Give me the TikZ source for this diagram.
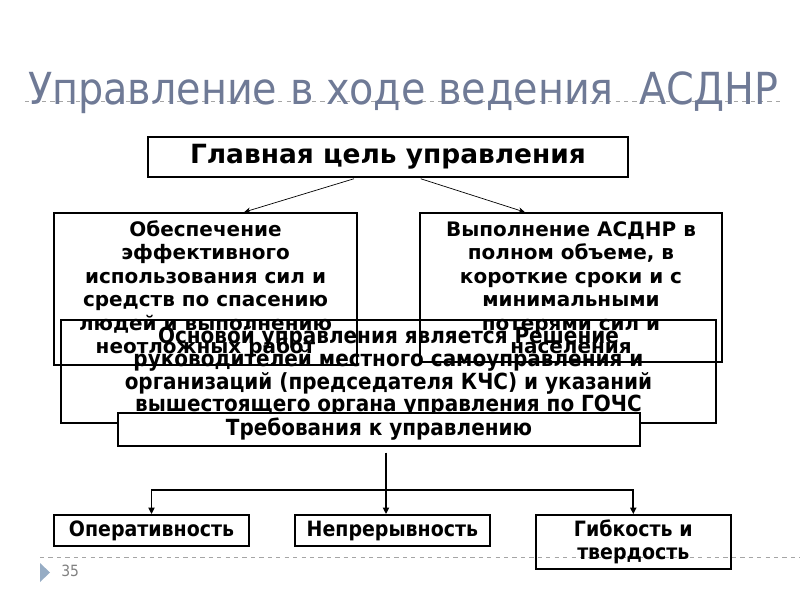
\documentclass[tikz,border=0pt]{standalone}
\usepackage{fontspec}
\setmainfont{DejaVu Sans}
\newfontfamily\condfont{DejaVu Sans Condensed}
\usetikzlibrary{arrows.meta, positioning, calc}
\definecolor{cTitle}{RGB}{111,122,150}
\definecolor{cRule}{RGB}{165,165,165}
\definecolor{cIcon}{RGB}{150,172,196}
\tikzset{
	goalbox/.style ={rectangle, draw=black, line width=1.3pt, align=center, inner sep=2pt, font=\fontsize{18.8}{22}\selectfont\bfseries},
	aimbox/.style  ={rectangle, draw=black, line width=1.3pt, align=center, inner sep=2pt, font=\fontsize{14.2}{16.7}\selectfont\bfseries},
	basebox/.style ={rectangle, draw=black, line width=1.3pt, align=center, inner sep=2pt, font=\condfont\fontsize{15.8}{16.3}\selectfont\bfseries},
	qualbox/.style ={rectangle, draw=black, line width=1.3pt, align=center, inner sep=2pt, minimum width=4.875cm, minimum height=0.775cm, font=\condfont\fontsize{15}{16.3}\selectfont\bfseries},
	thinarr/.style ={-{Stealth[length=1.6mm, width=1.4mm]}, line width=0.5pt},
	sig/.style     ={-{Triangle[length=1.6mm, width=1.5mm]}, line width=1.2pt},
	rule/.style    ={cRule, dashed, line width=0.5pt},
}
\begin{document}
\begin{tikzpicture}[x=0.025cm, y=-0.025cm]
	\useasboundingbox (0,0) rectangle (800,600);
	% slide frame
	\draw[rule] (25,101) -- (780,101);
	\node[anchor=base west, inner sep=0pt, text=cTitle, font=\condfont\fontsize{31.4}{36}\selectfont] (title) at (28,104) {Управление в ходе ведения\ \ АСДНР};
	\draw[rule] (40,557) -- (800,557);
	\fill[cIcon] (40,563) -- (50,572.5) -- (40,582) -- cycle;
	\node[anchor=west, inner sep=0pt, text=gray, font=\condfont\fontsize{11}{13}\selectfont] (page) at (61,571) {35};
	% goal and its two parts
	\node[goalbox, minimum width=12cm, minimum height=1cm] (goal) at (388,157) {Главная цель управления};
	\node[aimbox, minimum width=7.575cm, minimum height=3.8cm] (use) at (205.5,289) {Обеспечение\\эффективного\\использования сил и\\средств по спасению\\людей и выполнению\\неотложных работ};
	\node[aimbox, minimum width=7.55cm, minimum height=3.725cm] (done) at (571,287.5) {Выполнение АСДНР в\\полном объеме, в\\короткие сроки и с\\минимальными\\потерями сил и\\населения};
	\draw[thinarr, shorten <=2pt] ($(goal.south west)!0.435!(goal.south east)$) -- ($(use.north west)!0.627!(use.north east)$);
	\draw[thinarr, shorten <=2pt] ($(goal.south west)!0.5625!(goal.south east)$) -- ($(done.north west)!0.348!(done.north east)$);
	% basis and requirements
	\node[basebox, minimum width=16.375cm, minimum height=2.575cm] (basis) at (388.5,371.5) {Основой управления является Решение\\руководителей местного самоуправления и\\организаций (председателя КЧС) и указаний\\вышестоящего органа управления по ГОЧС};
	\node[basebox, fill=white, minimum width=13.05cm, minimum height=0.825cm] (req) at (379,429.5) {Требования к управлению};
	\node[qualbox] (op) at (151.5,530.5) {Оперативность};
	\node[qualbox, right=1.1cm of op] (nep) {Непрерывность};
	\node[qualbox, minimum height=1.35cm, right=1.1cm of op.north east -| nep.east, anchor=north west] (gib) {Гибкость и\\твердость};
	\coordinate (fork) at (386,490);
	\draw[sig, shorten <=4pt] (req.south -| fork) -- (nep.north -| fork);
	\draw[sig] (fork) -| (op.north);
	\draw[sig] (fork) -| (gib.north);
\end{tikzpicture}
\end{document}
